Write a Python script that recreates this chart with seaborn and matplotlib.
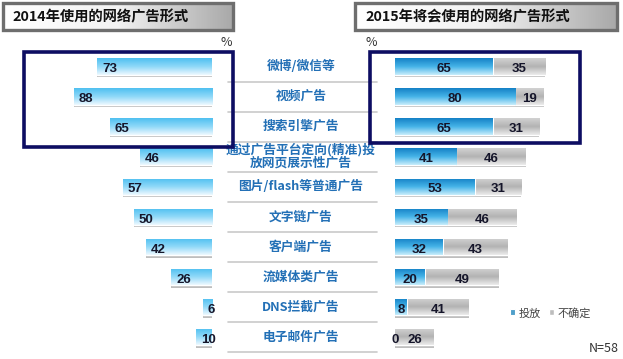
import numpy as np
import matplotlib
matplotlib.use("Agg")
import matplotlib.pyplot as plt
import matplotlib.transforms as mtransforms
from matplotlib.colors import LinearSegmentedColormap
from matplotlib.patches import Rectangle
import seaborn as sns

# ---------------- data ----------------
categories = ["微博/微信等", "视频广告", "搜索引擎广告",
              "通过广告平台定向(精准)投\n放网页展示性广告", "图片/flash等普通广告",
              "文字链广告", "客户端广告", "流媒体类广告", "DNS拦截广告", "电子邮件广告"]
used_2014 = [73, 88, 65, 46, 57, 50, 42, 26, 6, 10]
plan_2015 = [65, 80, 65, 41, 53, 35, 32, 20, 8, 0]
unsure_2015 = [35, 19, 31, 46, 31, 46, 43, 49, 41, 26]
title_left = "2014年使用的网络广告形式"
title_right = "2015年将会使用的网络广告形式"
legend_labels = ["投放", "不确定"]
sample_note = "N=58"

sns.set_theme(style="white")
plt.rcParams['font.family'] = ['Noto Sans CJK SC', 'DejaVu Sans']

W, H = 623, 359
fig = plt.figure(figsize=(W / 100, H / 100), dpi=100)
fig.patch.set_facecolor("white")

def px_axes(x0, y0, x1, y1, **kw):
    return fig.add_axes([x0 / W, 1 - y1 / H, (x1 - x0) / W, (y1 - y0) / H], **kw)

row_top, row_bot = 51.6, 352.0
ax_l = px_axes(16, row_top, 212, row_bot)
ax_r = px_axes(395, row_top, 612, row_bot)

BAR_H = 0.55
sns.barplot(x=used_2014, y=categories, orient="h", ax=ax_l, color="#7fd3f7", width=BAR_H)
total_2015 = [p + u for p, u in zip(plan_2015, unsure_2015)]
sns.barplot(x=total_2015, y=categories, orient="h", ax=ax_r, color="#bdbdbd", width=BAR_H)
sns.barplot(x=plan_2015, y=categories, orient="h", ax=ax_r, color="#3aa6de", width=BAR_H)

ax_l.set_xlim(196 / 1.57, 0)
ax_r.set_xlim(0, 217 / 1.5)
for a in (ax_l, ax_r):
    a.set_ylim(len(categories) - 0.5, -0.5)
    a.set_axis_off()

def gradient_fill(ax, container, colors, z=2, shadow=True):
    cmap = LinearSegmentedColormap.from_list("g", colors)
    grad = np.linspace(0, 1, 64).reshape(-1, 1)
    xl, yl = ax.get_xlim(), ax.get_ylim()
    for p in container.patches:
        if p.get_width() == 0:
            continue
        x0, y0 = p.get_x(), p.get_y()
        x1, y1 = x0 + p.get_width(), y0 + p.get_height()
        if shadow:
            sh = Rectangle((x0, y0 + 0.08), p.get_width(), p.get_height(),
                           fc="#8a8a8a", ec="none", alpha=0.55, zorder=1)
            ax.add_patch(sh)
        im = ax.imshow(grad, extent=(x0, x1, y1, y0), aspect="auto", cmap=cmap,
                       origin="upper", zorder=z, interpolation="bilinear")
        im.set_clip_path(p)
        p.set_zorder(z - 0.1)
    ax.set_xlim(xl)
    ax.set_ylim(yl)

gradient_fill(ax_l, ax_l.containers[0], ["#4fc0f0", "#8fd8f8", "#eef9ff"])
gradient_fill(ax_r, ax_r.containers[0], ["#d2d2d2", "#b3b3b3", "#ececec"], z=2)
gradient_fill(ax_r, ax_r.containers[1], ["#1581c6", "#45b3e8", "#c8edfb"], z=3, shadow=False)
for p in ax_r.containers[1].patches:
    p.set_edgecolor("white")
    p.set_linewidth(0.8)

num_kw = dict(fontsize=9.5, fontweight="bold", color="#15152a", va="center_baseline", zorder=6,
              family=['Liberation Sans', 'DejaVu Sans'])
for i, v in enumerate(used_2014):
    ax_l.annotate(str(v), (v, i + 0.04), xytext=(5, 0), textcoords="offset pixels", ha="left", **num_kw)
for i, (p, u) in enumerate(zip(plan_2015, unsure_2015)):
    ax_r.text(p / 2, i + 0.04, str(p), ha="center", **num_kw)
    ax_r.text(p + u / 2, i + 0.04, str(u), ha="center", **num_kw)

# ---------------- overlay ----------------
ov = fig.add_axes([0, 0, 1, 1], zorder=10)
ov.set_axis_off()
ov.patch.set_alpha(0)

# title boxes
hcmap = LinearSegmentedColormap.from_list("h", ["#ffffff", "#f2f2f2", "#a9a9a9"])
hgrad = np.linspace(0, 1, 128).reshape(1, -1)
for (x0, x1, tx, t) in [(3, 233, 12, title_left), (355, 617, 365, title_right)]:
    ov.imshow(hgrad, extent=(x0, x1, 30, 3), aspect="auto", cmap=hcmap, zorder=1)
    ov.add_patch(Rectangle((x0, 3), x1 - x0, 27, fill=False, ec="#6e6e6e", lw=2.4, zorder=2))
    ov.text(tx, 17, t, ha="left", va="center", fontsize=10.3, fontweight="bold", color="#111111", zorder=3)
ov.set_xlim(0, W)
ov.set_ylim(H, 0)

# category labels + separator lines
blend = mtransforms.blended_transform_factory(ov.transData, ax_l.transData)
for i, c in enumerate(categories):
    ov.text(301, i, c, transform=blend, ha="center", va="center", fontsize=9.2,
            fontweight="bold", color="#2370b6", linespacing=1.0)
    ov.plot([228, 377], [i + 0.5, i + 0.5], transform=blend, color="#c9c9c9", lw=1.2)

ov.text(226, 42, "%", ha="center", va="center", fontsize=9, color="#333333")
ov.text(371, 42, "%", ha="center", va="center", fontsize=9, color="#333333")

# highlight rectangles
ov.add_patch(Rectangle((24, 52), 209, 95, fill=False, ec="#0d0d62", lw=2.6, zorder=5))
ov.add_patch(Rectangle((370, 52), 210, 91, fill=False, ec="#0d0d62", lw=2.6, zorder=5))

# legend
h1 = ax_r.containers[1].patches[0]
h2 = ax_r.containers[0].patches[0]
fig.legend([h1, h2], legend_labels, loc="center left", bbox_to_anchor=(500 / W, 1 - 313 / H),
           ncol=2, frameon=False, fontsize=8, handlelength=0.45, handleheight=0.45,
           handletextpad=0.3, columnspacing=0.8, labelcolor="#444444")

ov.text(619, 348, sample_note, ha="right", va="center", fontsize=9, color="#333333")

fig.savefig("out.png", dpi=100, facecolor="white")
